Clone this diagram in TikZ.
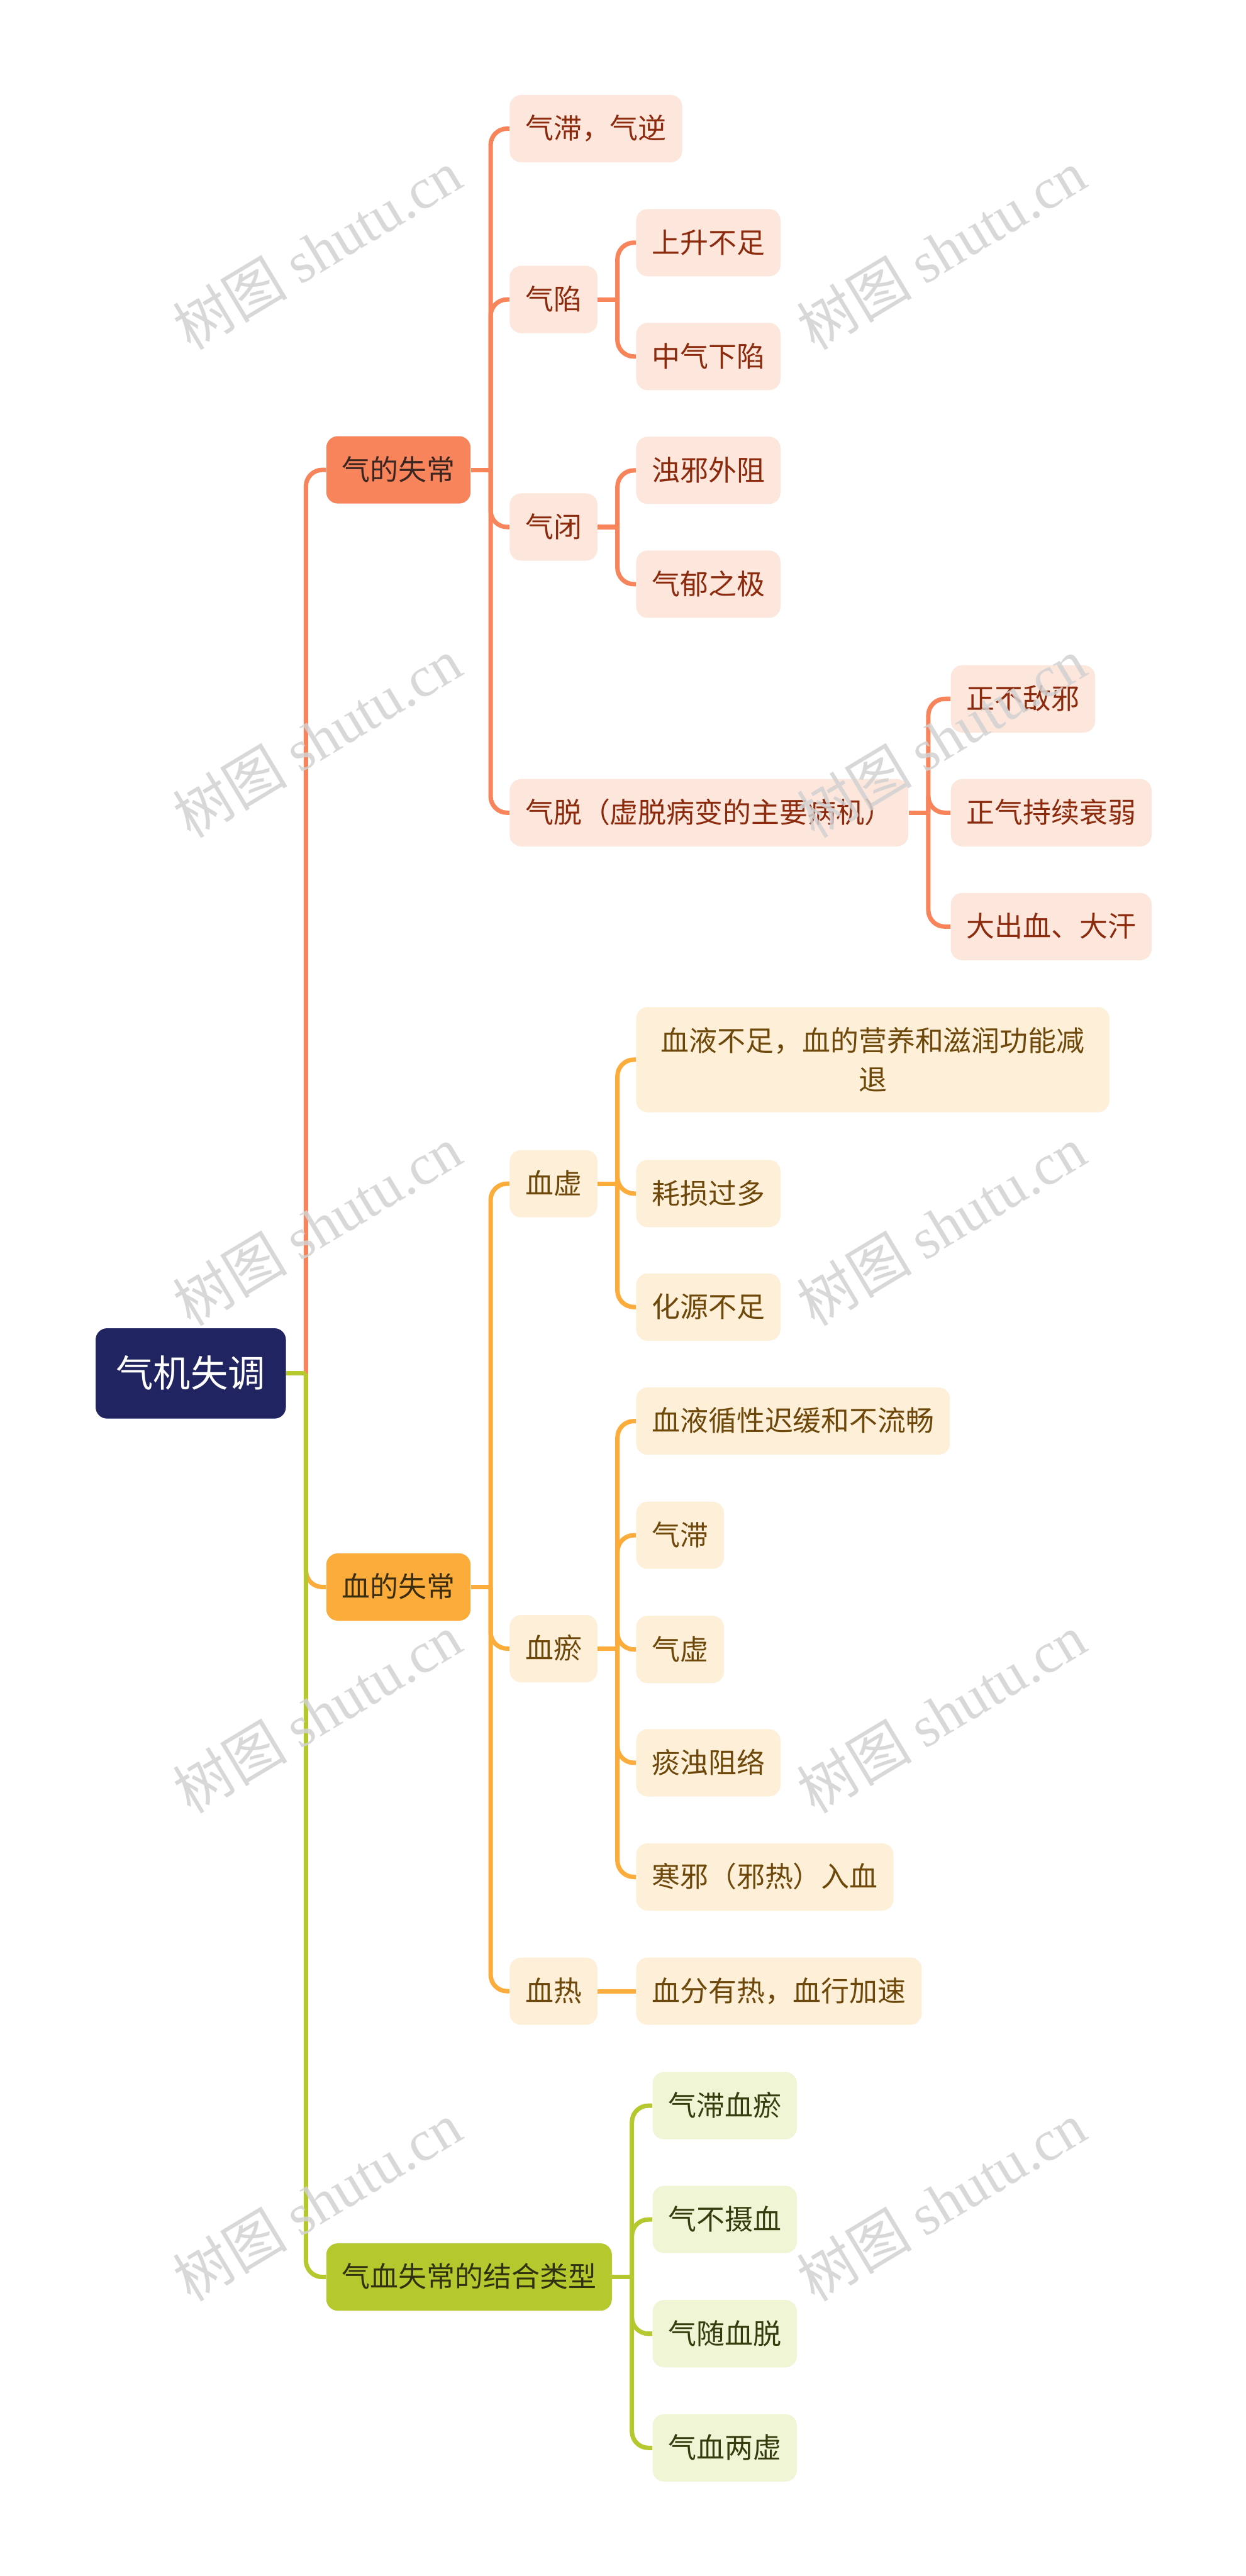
\documentclass[tikz,border=0pt]{standalone}
\usepackage{fontspec}
\setmainfont{Noto Sans CJK SC}
\newfontfamily\wmlatin{Liberation Serif}
\usetikzlibrary{calc}
\definecolor{rootfill}{HTML}{202562}
\definecolor{qimain}{HTML}{F8845C}
\definecolor{qilight}{HTML}{FDE6DB}
\definecolor{qitext}{HTML}{8C2A0E}
\definecolor{qidark}{HTML}{3B2520}
\definecolor{xuemain}{HTML}{FBAC3A}
\definecolor{xuelight}{HTML}{FEF0D8}
\definecolor{xuetext}{HTML}{6E480A}
\definecolor{xuedark}{HTML}{3A2C0E}
\definecolor{hemain}{HTML}{B5C92E}
\definecolor{helight}{HTML}{F0F5D5}
\definecolor{hetext}{HTML}{373C0F}
\definecolor{hedark}{HTML}{2E3210}
\definecolor{wmgray}{HTML}{D2D2D2}
\newcommand{\fs}{\fontsize{17.2pt}{23.5pt}\selectfont}

\begin{document}
\begin{tikzpicture}[x=1pt,y=-1pt,
  box/.style={rounded corners=7pt,inner xsep=9.5pt,inner ysep=0pt,minimum height=41pt,
    font=\fs,text height=14.6pt,text depth=2.1pt,anchor=west},
  rootbox/.style={box,fill=rootfill,text=white,inner xsep=12.5pt,minimum height=55pt,
    font=\fontsize{22.7pt}{27pt}\selectfont,text height=19.3pt,text depth=2.7pt},
  qitop/.style={box,fill=qimain,text=qidark},
  qisub/.style={box,fill=qilight,text=qitext},
  xuetop/.style={box,fill=xuemain,text=xuedark},
  xuesub/.style={box,fill=xuelight,text=xuetext},
  hetop/.style={box,fill=hemain,text=hedark},
  hesub/.style={box,fill=helight,text=hetext},
  qiline/.style={line width=2.7pt,draw=qimain},
  xueline/.style={line width=2.7pt,draw=xuemain},
  heline/.style={line width=2.7pt,draw=hemain},
  elbow/.style={rounded corners=10pt},
  watermark/.style={rotate=31,text=wmgray,opacity=0.85,font=\fontsize{35pt}{35pt}\selectfont}]
\useasboundingbox[fill=white] (0,0) rectangle (758,1568);

\node[rootbox] (root) at (58,836) {气机失调};
\node[qitop] (qi) at (198.4,286) {气的失常};
\node[xuetop] (xue) at (198.4,966) {血的失常};
\node[hetop] (he) at (198.4,1386) {气血失常的结合类型};

\node[qisub] (qizhi) at (310,78.3) {气滞，气逆};
\node[qisub] (qixian) at (310,182.3) {气陷};
\node[qisub] (qibi) at (310,320.8) {气闭};
\node[qisub] (qituo) at (310,494.7) {气脱（虚脱病变的主要病机）};
\node[qisub] (xian1) at (387,147.7) {上升不足};
\node[qisub] (xian2) at (387,217) {中气下陷};
\node[qisub] (bi1) at (387,286.3) {浊邪外阻};
\node[qisub] (bi2) at (387,355.6) {气郁之极};
\node[qisub] (tuo1) at (578.5,425.4) {正不敌邪};
\node[qisub] (tuo2) at (578.5,494.7) {正气持续衰弱};
\node[qisub] (tuo3) at (578.5,564) {大出血、大汗};

\node[xuesub] (xuexu) at (310,720.5) {血虚};
\node[xuesub] (xueyu) at (310,1003.5) {血瘀};
\node[xuesub] (xuere) at (310,1212) {血热};
\node[xuesub,text height={},text depth={},minimum height=64pt,text width=269pt,align=center]
  (xu1) at (387,645) {血液不足，血的营养和滋润功能减\\退};
\node[xuesub] (xu2) at (387,726.5) {耗损过多};
\node[xuesub] (xu3) at (387,795.6) {化源不足};
\node[xuesub] (yu1) at (387,865) {血液循性迟缓和不流畅};
\node[xuesub] (yu2) at (387,934.5) {气滞};
\node[xuesub] (yu3) at (387,1004) {气虚};
\node[xuesub] (yu4) at (387,1073) {痰浊阻络};
\node[xuesub] (yu5) at (387,1142.5) {寒邪（邪热）入血};
\node[xuesub] (re1) at (387,1212) {血分有热，血行加速};

\node[hesub] (he1) at (397,1281.7) {气滞血瘀};
\node[hesub] (he2) at (397,1351) {气不摄血};
\node[hesub] (he3) at (397,1420.5) {气随血脱};
\node[hesub] (he4) at (397,1490) {气血两虚};

\coordinate (jroot) at ([xshift=12pt]root.east);
\draw[qiline,elbow] (jroot) |- (qi.west);
\draw[xueline,elbow] (jroot) |- (xue.west);
\draw[heline,elbow] (jroot) |- (he.west);
\draw[heline] (root.east) -- (jroot);

\coordinate (jqi) at ([xshift=12pt]qi.east);
\draw[qiline] (qi.east) -- (jqi);
\foreach \c in {qizhi,qixian,qibi,qituo} \draw[qiline,elbow] (jqi) |- (\c.west);
\coordinate (jxian) at ([xshift=12pt]qixian.east);
\draw[qiline] (qixian.east) -- (jxian);
\foreach \c in {xian1,xian2} \draw[qiline,elbow] (jxian) |- (\c.west);
\coordinate (jbi) at ([xshift=12pt]qibi.east);
\draw[qiline] (qibi.east) -- (jbi);
\foreach \c in {bi1,bi2} \draw[qiline,elbow] (jbi) |- (\c.west);
\coordinate (jtuo) at ([xshift=12pt]qituo.east);
\draw[qiline] (qituo.east) -- (jtuo);
\foreach \c in {tuo1,tuo2,tuo3} \draw[qiline,elbow] (jtuo) |- (\c.west);

\coordinate (jxue) at ([xshift=12pt]xue.east);
\draw[xueline] (xue.east) -- (jxue);
\foreach \c in {xuexu,xueyu,xuere} \draw[xueline,elbow] (jxue) |- (\c.west);
\coordinate (jxu) at ([xshift=12pt]xuexu.east);
\draw[xueline] (xuexu.east) -- (jxu);
\foreach \c in {xu1,xu2,xu3} \draw[xueline,elbow] (jxu) |- (\c.west);
\coordinate (jyu) at ([xshift=12pt]xueyu.east);
\draw[xueline] (xueyu.east) -- (jyu);
\foreach \c in {yu1,yu2,yu3,yu4,yu5} \draw[xueline,elbow] (jyu) |- (\c.west);
\draw[xueline] (xuere.east) -- (re1.west);

\coordinate (jhe) at ([xshift=12pt]he.east);
\draw[heline] (he.east) -- (jhe);
\foreach \c in {he1,he2,he3,he4} \draw[heline,elbow] (jhe) |- (\c.west);

\foreach \wy in {152,449,746,1043,1340}
  \foreach \wx in {193,573}
    \node[watermark] (wm-\wx-\wy) at (\wx,\wy) {树图 {\wmlatin shutu.cn}};
\end{tikzpicture}
\end{document}
